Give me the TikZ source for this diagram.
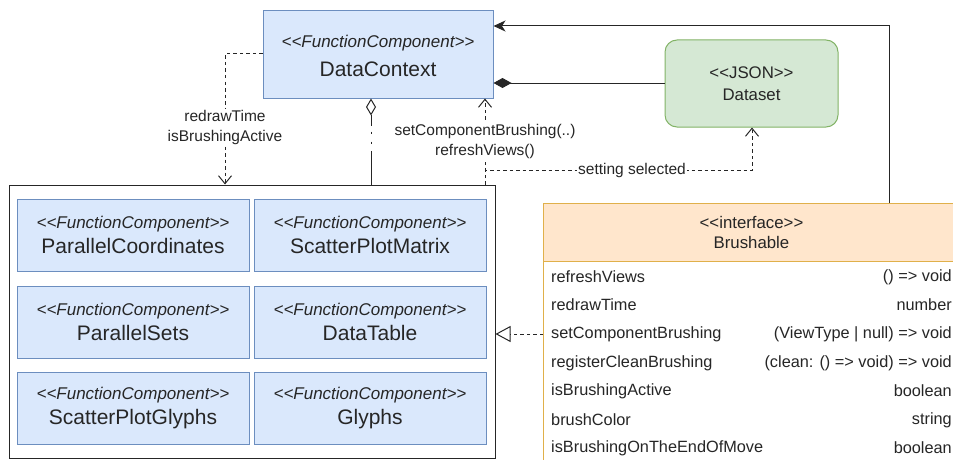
\documentclass[tikz,border=0pt]{standalone}
\usepackage{fontspec}
\setmainfont{Liberation Sans}[Ligatures=TeXOff]
\usetikzlibrary{arrows.meta}

\definecolor{ink}{HTML}{262626}
\definecolor{compfill}{HTML}{DAE8FC}
\definecolor{compline}{HTML}{6C8EBF}
\definecolor{jsonfill}{HTML}{D5E8D4}
\definecolor{jsonline}{HTML}{82B366}
\definecolor{ifacefill}{HTML}{FFE6CC}
\definecolor{ifaceline}{HTML}{E0B04A}

\newcommand{\stereo}[1]{{\fontsize{17}{20}\selectfont\itshape <<#1>>}}
\newcommand{\cname}[1]{{\fontsize{21}{24}\selectfont #1}}

\begin{document}
\begin{tikzpicture}[x=1pt,y=-1pt,
  every node/.style={text=ink},
  comp/.style={draw=compline, fill=compfill, line width=1pt, inner sep=0pt,
    minimum width=232pt, minimum height=72pt, align=center},
  conn/.style={draw=ink, line width=1pt},
  dep/.style={conn, dash pattern=on 3.5pt off 3pt},
  openhead/.style={-{Straight Barb[length=8pt,width=13pt,line width=1pt]}},
  lbl/.style={fill=white, inner sep=1pt, align=center, font=\fontsize{15.5}{20}\selectfont},
  rowtxt/.style={inner sep=0pt, font=\fontsize{16.3}{19}\selectfont}
]
\useasboundingbox (0,0) rectangle (953,460);
\clip (0,0) rectangle (953,460);

% DataContext provider
\node[comp, minimum width=230pt, minimum height=87pt] (dc) at (378,54.5) {};
\node at (378,43) {\stereo{FunctionComponent}};
\node at (378,69) {\cname{DataContext}};

% Dataset
\node[draw=jsonline, fill=jsonfill, line width=1pt, rounded corners=12pt,
  minimum width=173pt, minimum height=87pt, inner sep=0pt, align=center,
  font=\fontsize{16.8}{22}\selectfont] (ds) at (751.5,83.5) {<<JSON>>\\Dataset};

% container of the views
\node[draw=ink, line width=1pt, minimum width=486pt, minimum height=273pt,
  inner sep=0pt] (ct) at (252,321.5) {};

% views
\node[comp] (pc)  at (133,235) {\stereo{FunctionComponent}\\[6pt]\cname{ParallelCoordinates}};
\node[comp] (spm) at (370,235) {\stereo{FunctionComponent}\\[6pt]\cname{ScatterPlotMatrix}};
\node[comp] (ps)  at (133,322) {\stereo{FunctionComponent}\\[6pt]\cname{ParallelSets}};
\node[comp] (dt)  at (370,322) {\stereo{FunctionComponent}\\[6pt]\cname{DataTable}};
\node[comp] (spg) at (133,408) {\stereo{FunctionComponent}\\[6pt]\cname{ScatterPlotGlyphs}};
\node[comp] (gl)  at (370,408) {\stereo{FunctionComponent}\\[6pt]\cname{Glyphs}};

% Brushable interface
\node[draw=ifaceline, fill=ifacefill, line width=1pt, anchor=north west,
  minimum width=416pt, minimum height=58pt, inner sep=0pt, align=center,
  font=\fontsize{16.8}{20}\selectfont] (ifh) at (543,203) {<<interface>>\\Brushable};
\node[draw=ifaceline, fill=white, line width=1pt, anchor=north west,
  minimum width=416pt, minimum height=240pt, inner sep=0pt] (ifb) at (543,261) {};
\foreach \y/\l/\r in {277/refreshViews/{() => void},
                      305/redrawTime/number,
                      334/setComponentBrushing/{(ViewType | null) => void},
                      363/registerCleanBrushing/{(clean: () => void) => void},
                      391/isBrushingActive/boolean,
                      420/brushColor/string,
                      448/isBrushingOnTheEndOfMove/boolean}{
  \node[rowtxt, anchor=west] at (551,\y) {\l};
  \node[rowtxt, anchor=east] at (952,\y) {\r};
}

% Brushable -> DataContext
\draw[conn, -{Stealth[length=12pt,width=11pt,inset=3.5pt]}]
  (ifh.north -| 889,0) |- (dc.east |- 0,26);

% composition DataContext <>- Dataset
\draw[conn, {Diamond[length=18pt,width=10pt,fill=ink]}-]
  (dc.east |- 0,83) -- (ds.west |- 0,83);

% DataContext provides redrawTime / isBrushingActive
\draw[dep, openhead] (dc.west |- 0,54) -| (ct.north -| 225,0);
\node[lbl] (rt) at (225,127) {redrawTime\\isBrushingActive};

% aggregation DataContext <>- views
\draw[conn, {Diamond[open,length=17pt,width=10pt,fill=white]}-,
  dash pattern=on 11pt off 6pt on 2.2pt off 8pt on 2.2pt off 7pt on 60pt]
  (dc.south -| 371,0) -- (ct.north -| 371,0);

% views call back into DataContext
\draw[dep, openhead] (ct.north -| 485,0) -- (dc.south -| 485,0);
\node[lbl] (cb) at (485,141) {setComponentBrushing(..)\\refreshViews()};

% views set the selection in the Dataset
\draw[dep, openhead] (ct.north -| 485,0) |- (752,170) -- (ds.south -| 752,0);
\node[lbl] (ss) at (632,170) {setting selected};

% views realize Brushable
\draw[dep, -{Triangle[open,length=15pt,width=16pt,line width=1pt,fill=white]}]
  (ifb.west |- 0,334) -- (ct.east |- 0,334);
\end{tikzpicture}
\end{document}
